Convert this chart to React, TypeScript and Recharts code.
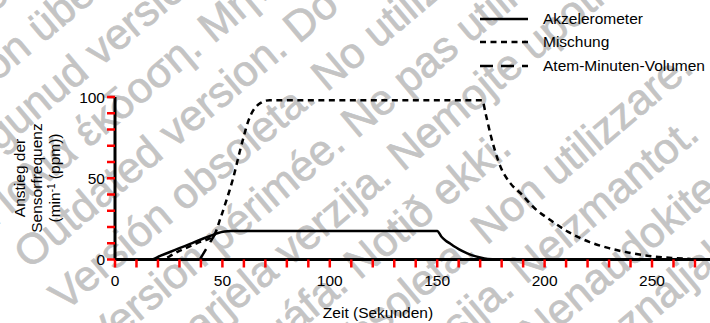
import React from 'react';
import { LineChart, Line, XAxis, YAxis } from 'recharts';

// Akzelerometer (solid)
const accTime = [0, 17, 21, 25, 30, 35, 40, 45, 48, 51, 54, 150, 152, 154, 156, 158, 160, 164, 168, 172, 176, 180, 277];
const accRate = [0, 0, 2.2, 4.3, 7, 9.6, 12.3, 14.8, 16.3, 17.2, 17.5, 17.5, 14, 11.6, 9.8, 8, 6.4, 3.8, 1.9, 0.7, 0.2, 0, 0];

// Mischung (short dashes)
const mixTime = [0, 21, 30, 38, 46, 49, 52, 55, 58, 60, 62, 64, 66, 68, 70, 72, 171, 172.5, 175, 179.5, 184, 189, 195, 203, 211, 221, 230, 240, 250, 259, 268];
const mixRate = [0, 0, 5.3, 10, 14.8, 25, 37, 50, 66, 76, 85, 91, 94.5, 96.5, 97.7, 98, 98, 90, 76, 57, 47, 40.5, 32, 24, 17, 10.7, 7, 4, 2, 1, 0.3];

// Atem-Minuten-Volumen (long dashes)
const amvTime = [0, 39.5, 46.5];
const amvRate = [0, 0, 15.5];

const xTicks = [0, 10, 20, 30, 40, 50, 60, 70, 80, 90, 100, 110, 120, 130, 140, 150, 160, 170, 180, 190, 200, 210, 220, 230, 240, 250, 260, 270];
const xLabelled = [0, 50, 100, 150, 200, 250];
const yTicks = [0, 10, 20, 30, 40, 50, 60, 70, 80, 90, 100];
const yLabelled = [0, 50, 100];

const seriesNames = ['Akzelerometer', 'Mischung', 'Atem-Minuten-Volumen'];
const seriesDash = ['0', '6 4.5', '13 8'];

const watermarkLines = [
  'Forældet version. Må ikke anvendes.',
  'Version überholt. Nicht verwenden.',
  'Aegunud versioon. Ärge kasutage.',
  'Παλιά έκδοση. Μην την χρησιμοποιείτε.',
  'Outdated version. Do not use.',
  'Versión obsoleta. No utilizar.',
  'Version périmée. Ne pas utiliser.',
  'Zastarjela verzija. Nemojte upotrebljavati.',
  'Úrelt útgáfa. Notið ekki.',
  'Versione obsoleta. Non utilizzare.',
  'Novecojusi versija. Neizmantot.',
  'Pasenusi versija. Nenaudokite.',
  'Elavult verzió. Ne használja!',
];

const FONT = '"Liberation Sans", Arial, sans-serif';

const toPoints = (t: number[], r: number[]) => t.map((x, i) => ({ t: x, rate: r[i] }));
const accData = toPoints(accTime, accRate);
const mixData = toPoints(mixTime, mixRate);
const amvData = toPoints(amvTime, amvRate);

const tickFont = { fontSize: 15.5, fontFamily: FONT, fill: '#000' };

export default function App() {
  const cy = 178;
  return (
    <div style={{ position: 'absolute', left: 0, top: 0, width: 710, height: 323, background: '#fff' }}>
      <svg width={710} height={323} style={{ position: 'absolute', left: 0, top: 0 }}>
        <g transform="rotate(-40)" fill="#c4c4c4" stroke="#c4c4c4" strokeWidth={0.7} fontFamily={FONT} fontSize={43}>
          {watermarkLines.map((line, i) => (
            <text key={i} x={-151} y={6 + i * 55}>{line}</text>
          ))}
        </g>
        <g textAnchor="middle" {...tickFont}>
          <text x={19} y={cy} dy="0.36em" transform={`rotate(-90, 19, ${cy})`}>Anstieg der</text>
          <text x={36} y={cy} dy="0.36em" transform={`rotate(-90, 36, ${cy})`}>Sensorfrequenz</text>
          <text x={54} y={cy} dy="0.36em" transform={`rotate(-90, 54, ${cy})`}>
            (min<tspan dy={-5} fontSize={10}>-1</tspan><tspan dy={5}> (ppm))</tspan>
          </text>
          <text x={378} y={318}>Zeit (Sekunden)</text>
        </g>
      </svg>
      <LineChart
        width={710}
        height={323}
        margin={{ top: 97, right: 0, bottom: 23.5, left: 55 }}
        style={{ position: 'absolute', left: 0, top: 0 }}
      >
        <XAxis
          dataKey="t"
          type="number"
          domain={[0, 277]}
          ticks={xTicks}
          interval={0}
          height={40}
          tickSize={8}
          tickMargin={7}
          axisLine={{ stroke: '#000', strokeWidth: 3 }}
          tickLine={{ stroke: 'red', strokeWidth: 2.5 }}
          tick={tickFont}
          tickFormatter={(v: number) => (xLabelled.includes(v) ? String(v) : '')}
        />
        <YAxis
          type="number"
          domain={[0, 100]}
          ticks={yTicks}
          interval={0}
          width={60}
          tickSize={8}
          tickMargin={2}
          axisLine={{ stroke: '#000', strokeWidth: 3 }}
          tickLine={{ stroke: 'red', strokeWidth: 2.5 }}
          tick={tickFont}
          tickFormatter={(v: number) => (yLabelled.includes(v) ? String(v) : '')}
        />
        <Line data={accData} dataKey="rate" name={seriesNames[0]} type="monotone" stroke="#000" strokeWidth={2.5} dot={false} isAnimationActive={false} />
        <Line data={mixData} dataKey="rate" name={seriesNames[1]} type="monotone" stroke="#000" strokeWidth={2.5} strokeDasharray={seriesDash[1]} dot={false} isAnimationActive={false} />
        <Line data={amvData} dataKey="rate" name={seriesNames[2]} type="linear" stroke="#000" strokeWidth={2.5} strokeDasharray={seriesDash[2]} dot={false} isAnimationActive={false} />
      </LineChart>
      <div style={{ position: 'absolute', left: 480, top: 7, fontFamily: FONT, fontSize: 15.5, color: '#000' }}>
        {seriesNames.map((name, i) => (
          <div key={name} style={{ display: 'flex', alignItems: 'center', height: 23.5 }}>
            <svg width={48} height={6}>
              <line x1={0} y1={3} x2={48} y2={3} stroke="#000" strokeWidth={2.5} strokeDasharray={seriesDash[i]} />
            </svg>
            <span style={{ marginLeft: 15, whiteSpace: 'nowrap' }}>{name}</span>
          </div>
        ))}
      </div>
    </div>
  );
}
